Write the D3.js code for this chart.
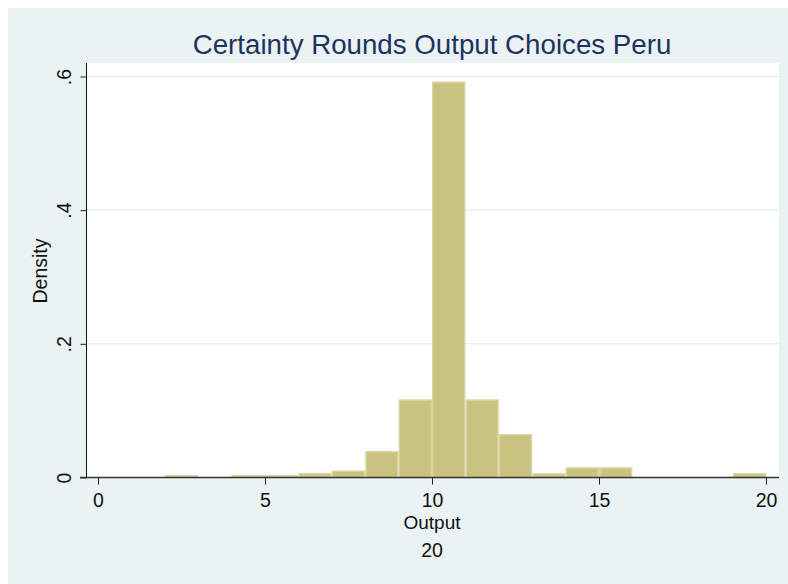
<!DOCTYPE html>
<html>
<head>
<meta charset="utf-8">
<script src="https://cdn.jsdelivr.net/npm/d3@7"></script>
<style>
  html, body { margin: 0; padding: 0; background: #ffffff; }
  svg { display: block; font-family: "Liberation Sans", Arial, sans-serif; }
</style>
</head>
<body>
<svg id="chart" width="788" height="584"></svg>
<script>
// Histogram of output choices (bin width 1), density scale
const binStarts = [2, 4, 5, 6, 7, 8, 9, 10, 11, 12, 13, 14, 15, 19];
const densities = [0.0037, 0.0037, 0.0037, 0.0070, 0.0105, 0.0396, 0.117, 0.5926, 0.117, 0.065, 0.0065, 0.0153, 0.0153, 0.0067];
const binWidth = 1;
const xTicks = [0, 5, 10, 15, 20];
const yTicks = [0, 0.2, 0.4, 0.6];
const yTickLabels = ["0", ".2", ".4", ".6"];
const titleText = "Certainty Rounds Output Choices Peru";
const xTitle = "Output";
const yTitle = "Density";
const noteText = "20";

const svg = d3.select("#chart");
const W = 788, H = 584;

// outer graph region
svg.append("rect").attr("x", 8).attr("y", 8).attr("width", W - 8).attr("height", H - 8)
  .attr("fill", "#eaf2f3");

// plot region bounds
const plot = { left: 87, right: 779, top: 63, bottom: 478 };
svg.append("rect")
  .attr("x", plot.left).attr("y", plot.top)
  .attr("width", plot.right - plot.left).attr("height", plot.bottom - plot.top)
  .attr("fill", "#ffffff");

const x = d3.scaleLinear().domain([0, 20]).range([98, 766]);
const y = d3.scaleLinear().domain([0, 0.6]).range([477.5, 76.5]);

// horizontal grid
svg.append("g").selectAll("line")
  .data(yTicks.filter(d => d > 0))
  .join("line")
  .attr("x1", plot.left).attr("x2", plot.right)
  .attr("y1", d => y(d)).attr("y2", d => y(d))
  .attr("stroke", "#e3edf0").attr("stroke-width", 1.2);

// bars
const bins = binStarts.map((s, i) => ({ x0: s, x1: s + binWidth, d: densities[i] }));
svg.append("g").selectAll("rect")
  .data(bins)
  .join("rect")
  .attr("x", b => x(b.x0) + 0.75)
  .attr("y", b => y(b.d) + 0.75)
  .attr("width", b => x(b.x1) - x(b.x0) - 1.5)
  .attr("height", b => Math.max(0, y(0) - y(b.d) - 0.75))
  .attr("fill", "#cac380")
  .attr("stroke", "#dad4a2")
  .attr("stroke-width", 1.5);

// y axis
const yAxis = svg.append("g")
  .attr("transform", `translate(${plot.left - 0.5},0)`)
  .call(d3.axisLeft(y).tickValues(yTicks).tickSize(6).tickSizeOuter(0)
    .tickFormat((d, i) => yTickLabels[i]));
yAxis.select(".domain").attr("d", `M0,${plot.top}V${plot.bottom}`).attr("stroke", "#111");
yAxis.selectAll(".tick line").attr("stroke", "#222");
yAxis.selectAll(".tick text")
  .attr("font-size", 19.5).attr("fill", "#111")
  .attr("x", null).attr("dy", null)
  .attr("text-anchor", "middle")
  .attr("transform", "translate(-16,0) rotate(-90)");

// x axis
const xAxis = svg.append("g")
  .attr("transform", `translate(0,${plot.bottom - 0.5})`)
  .call(d3.axisBottom(x).tickValues(xTicks).tickSize(7).tickSizeOuter(0));
xAxis.select(".domain").attr("d", `M${plot.left - 7},0H${plot.right}`).attr("stroke", "#333").attr("stroke-width", 1.3);
xAxis.selectAll(".tick line").attr("stroke", "#222");
xAxis.selectAll(".tick text")
  .attr("font-size", 19.5).attr("fill", "#111")
  .attr("dy", null).attr("y", 29.5);

// titles
svg.append("text")
  .attr("x", 432).attr("y", 54)
  .attr("text-anchor", "middle")
  .attr("font-size", 27.7)
  .attr("fill", "#1d3360")
  .text(titleText);

svg.append("text")
  .attr("x", 432).attr("y", 528.5)
  .attr("text-anchor", "middle")
  .attr("font-size", 19).attr("fill", "#111")
  .text(xTitle);

svg.append("text")
  .attr("transform", "translate(47,271) rotate(-90)")
  .attr("text-anchor", "middle")
  .attr("font-size", 19.5).attr("fill", "#111")
  .text(yTitle);

svg.append("text")
  .attr("x", 432).attr("y", 557)
  .attr("text-anchor", "middle")
  .attr("font-size", 19.5).attr("fill", "#111")
  .text(noteText);
</script>
</body>
</html>
